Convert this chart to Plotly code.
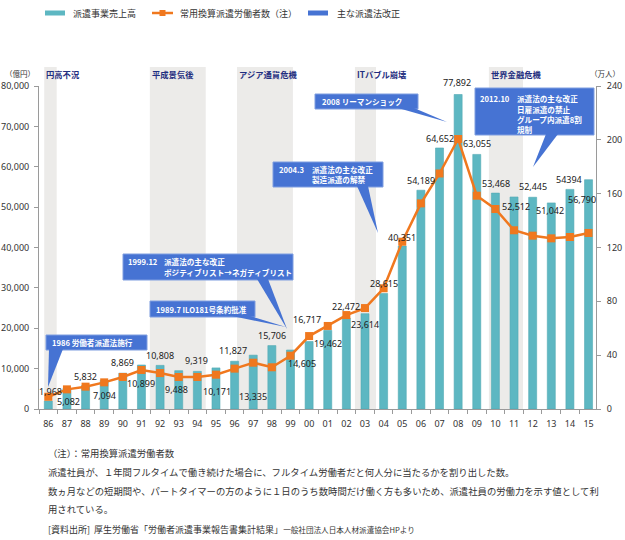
import plotly.graph_objects as go

# ---------------- data ----------------
years = ["86", "87", "88", "89", "90", "91", "92", "93", "94", "95", "96", "97", "98", "99",
         "00", "01", "02", "03", "04", "05", "06", "07", "08", "09", "10", "11", "12", "13", "14", "15"]
sales = [1968, 5082, 5832, 7094, 8869, 10899, 10808, 9488, 9319, 10171, 11827, 13335, 15706, 14605,
         16717, 19462, 22472, 23614, 28615, 40351, 54189, 64652, 77892, 63055, 53468, 52512, 52445,
         51042, 54394, 56790]
sales_labels = ["1,968", "5,082", "5,832", "7,094", "8,869", "10,899", "10,808", "9,488", "9,319",
                "10,171", "11,827", "13,335", "15,706", "14,605", "16,717", "19,462", "22,472",
                "23,614", "28,615", "40,351", "54,189", "64,652", "77,892", "63,055", "53,468",
                "52,512", "52,445", "51,042", "54394", "56,790"]
workers = [9.1, 14.6, 16.6, 19.8, 23.8, 29.0, 26.7, 23.8, 23.8, 25.5, 30.0, 34.4, 31.0, 39.6,
           54.2, 61.7, 69.8, 75.0, 89.7, 124.3, 152.8, 175.0, 200.6, 158.5, 148.6, 132.8, 128.8,
           126.8, 127.8, 130.8]
eras = ["円高不況", "平成景気後", "アジア通貨危機", "ITバブル崩壊", "世界金融危機"]
era_start = [-0.22, 5.45, 10.13, 16.46, 23.65]
era_end = [0.45, 8.45, 13.13, 17.59, 25.48]

left_ticks = [0, 10000, 20000, 30000, 40000, 50000, 60000, 70000, 80000]
right_ticks = [0, 40, 80, 120, 160, 200, 240]

legend_names = ["派遣事業売上高", "常用換算派遣労働者数（注）", "主な派遣法改正"]

# ---------------- style / layout ----------------
W, H = 625, 540
PX_L, PX_R, PX_T, PX_B = 39, 596, 86, 409
XR = [-0.5, 29.4]

TEAL = "#5DB7C2"
ORANGE = "#F0781E"
BLUE = "#4673D3"
BAND = "#ECEBE9"
NAVY = "#1F2E80"
TXT = "#333333"
NUMFONT = "Noto Sans, Noto Sans CJK JP, sans-serif"
JPFONT = "Noto Sans CJK JP, Noto Sans, sans-serif"


def px(x):
    return (x - PX_L) / (PX_R - PX_L)


def py(y):
    return (PX_B - y) / (PX_B - PX_T)


# label offsets (pixels) relative to bar top
lab_dx = [2, 2, 0, 0, 0, 0, 0, -2.7, -0.6, 1, -2, -0.6, 0, 12, -2.4, 0, 0, 0, 0, 0, 0, 0, -1, 0, 1, 2, 0, -1, -1, -6.6]
lab_dy = [10, -13, 9, -15.6, 10.6, -18.7, 9.4, -19, 10.4, -24, 10.6, -41, 10, -13, 21.6, -13.4, 11.7,
          -10.5, 9.7, 9, 10, 9.5, 12, 11, 10, -10, 11, -7.4, 10, -20]

idx = list(range(len(years)))

fig = go.Figure()
fig.add_trace(go.Bar(x=idx, y=sales, width=0.43, marker=dict(color=TEAL, line=dict(color="#52A9B4", width=0.6)),
                     name=legend_names[0], showlegend=False, hoverinfo="y"))
fig.add_trace(go.Scatter(x=idx, y=workers, yaxis="y2", mode="lines+markers", name=legend_names[1],
                         line=dict(color=ORANGE, width=2.5),
                         marker=dict(symbol="square", size=8, color=ORANGE), showlegend=False))

shapes = []
annotations = []

# era bands
for s, e in zip(era_start, era_end):
    shapes.append(dict(type="rect", xref="x", yref="paper", x0=s, x1=e, y0=0, y1=py(67),
                       fillcolor=BAND, line=dict(width=0), layer="below"))
for name, s in zip(eras, era_start):
    annotations.append(dict(text=name, xref="x", yref="paper", x=s, y=py(73.5), xanchor="left",
                            yanchor="middle", showarrow=False, xshift=0,
                            font=dict(family=JPFONT, size=8.3, color=NAVY, weight="bold")))

# data labels
for i, (v, lab) in enumerate(zip(sales, sales_labels)):
    annotations.append(dict(text=lab, xref="x", yref="y", x=i, y=v, xshift=lab_dx[i], yshift=lab_dy[i],
                            showarrow=False, xanchor="center", yanchor="middle",
                            font=dict(family=NUMFONT, size=9, color="#222222")))

# callouts
callouts = [
    dict(box=(46, 335, 147, 350), tri=[(49, 350), (63, 350), (48, 387)],
         texts=[(50, 342.5, "1986 労働者派遣法施行")]),
    dict(box=(150, 301, 255, 317), tri=[(232, 317), (250, 317), (286, 327)],
         texts=[(154, 309, "1989.7 ILO181号条約批准")]),
    dict(box=(123, 254, 293, 280), tri=[(257, 280), (268, 280), (287, 329)],
         texts=[(126, 261, "1999.12"), (162, 261, "派遣法の主な改正"),
                (162, 272, "ポジティブリスト→ネガティブリスト")]),
    dict(box=(273, 162, 383, 187), tri=[(357, 187), (368, 187), (378, 233)],
         texts=[(277, 169, "2004.3"), (310, 169, "派遣法の主な改正"), (310, 179.5, "製造派遣の解禁")]),
    dict(box=(315, 94, 418, 109), tri=[(398, 109), (414, 109), (447, 122)],
         texts=[(320, 101.5, "2008 リーマンショック")]),
    dict(box=(475, 88, 594, 135), tri=[(546, 135), (558, 135), (533, 167)],
         texts=[(478, 98, "2012.10"), (515, 98, "派遣法の主な改正"), (515, 110, "日雇派遣の禁止"),
                (515, 119.5, "グループ内派遣8割"), (515, 129, "規制")]),
]
for c in callouts:
    x0, y0, x1, y1 = c["box"]
    shapes.append(dict(type="rect", xref="paper", yref="paper", x0=px(x0), x1=px(x1), y0=py(y1), y1=py(y0),
                       fillcolor=BLUE, line=dict(color="#7F9EE0", width=1), layer="above"))
    (ax, ay), (bx, by), (tx, ty) = c["tri"]
    path = f"M {px(ax)} {py(ay - 1)} L {px(bx)} {py(by - 1)} L {px(tx)} {py(ty)} Z"
    shapes.append(dict(type="path", xref="paper", yref="paper", path=path, fillcolor=BLUE,
                       line=dict(width=0), layer="above"))
    for tx_, ty_, t in c["texts"]:
        annotations.append(dict(text=t, xref="paper", yref="paper", x=px(tx_), y=py(ty_), xanchor="left",
                                yanchor="middle", showarrow=False,
                                font=dict(family=JPFONT, size=7.6, color="white", weight="bold")))

# legend (manual)
shapes.append(dict(type="rect", xref="paper", yref="paper", x0=px(45), x1=px(65), y0=py(15.5), y1=py(10.5),
                   fillcolor=TEAL, line=dict(width=0)))
shapes.append(dict(type="line", xref="paper", yref="paper", x0=px(152), x1=px(173), y0=py(13), y1=py(13),
                   line=dict(color=ORANGE, width=2.5)))
shapes.append(dict(type="rect", xref="paper", yref="paper", x0=px(159.5), x1=px(165.5), y0=py(16), y1=py(10),
                   fillcolor=ORANGE, line=dict(width=0)))
shapes.append(dict(type="rect", xref="paper", yref="paper", x0=px(308), x1=px(328), y0=py(15.5), y1=py(10.5),
                   fillcolor=BLUE, line=dict(width=0)))
for name, lx in zip(legend_names, [71, 178, 335]):
    annotations.append(dict(text=name, xref="paper", yref="paper", x=px(lx), y=py(13), xanchor="left",
                            yanchor="middle", showarrow=False, font=dict(family=JPFONT, size=9, color=TXT)))

# axis unit labels
annotations.append(dict(text="（億円）", xref="paper", yref="paper", x=px(20), y=py(73), xanchor="center",
                        yanchor="middle", showarrow=False, font=dict(family=JPFONT, size=7.5, color=TXT)))
annotations.append(dict(text="（万人）", xref="paper", yref="paper", x=px(622), y=py(73), xanchor="right",
                        yanchor="middle", showarrow=False, font=dict(family=JPFONT, size=7.5, color=TXT)))

# footnotes
notes = [
    (453, "（注）：常用換算派遣労働者数"),
    (471.5, "派遣社員が、１年間フルタイムで働き続けた場合に、フルタイム労働者だと何人分に当たるかを割り出した数。"),
    (491, "数ヵ月などの短期間や、パートタイマーの方のように１日のうち数時間だけ働く方も多いため、派遣社員の労働力を示す値として利"),
    (509, "用されている。"),
]
for ny, t in notes:
    annotations.append(dict(text=t, xref="paper", yref="paper", x=px(46), y=py(ny), xanchor="left",
                            yanchor="middle", showarrow=False, font=dict(family=JPFONT, size=9.35, color=TXT)))
annotations.append(dict(text="[資料出所]  厚生労働省「労働者派遣事業報告書集計結果」"
                             "<span style='font-size:7.6px'>一般社団法人日本人材派遣協会HPより</span>",
                        xref="paper", yref="paper", x=px(46), y=py(529.5), xanchor="left",
                        yanchor="middle", showarrow=False, font=dict(family=JPFONT, size=9, color=TXT)))

fig.update_layout(
    width=W, height=H,
    margin=dict(l=PX_L, r=W - PX_R, t=PX_T, b=H - PX_B, pad=0, autoexpand=False),
    paper_bgcolor="white", plot_bgcolor="white",
    showlegend=False,
    xaxis=dict(range=XR, tickmode="array", tickvals=idx, ticktext=years, ticks="", automargin=False,
               showline=True, linecolor="#9A9A9A", linewidth=1, showgrid=False, zeroline=False,
               tickfont=dict(family=NUMFONT, size=9, color=TXT), ticklabelstandoff=6,
               minor=dict(tickmode="array", tickvals=[i - 0.5 for i in range(31)], ticks="outside",
                          ticklen=4, tickcolor="#9A9A9A", showgrid=False)),
    yaxis=dict(range=[0, 80000], tickmode="array", tickvals=left_ticks, tickformat=",", ticks="outside",
               ticklen=4, tickcolor="#9A9A9A", showline=True, linecolor="#9A9A9A", showgrid=False,
               automargin=False,
               zeroline=False, tickfont=dict(family=NUMFONT, size=9, color=TXT), ticklabelstandoff=3),
    yaxis2=dict(range=[0, 240], tickmode="array", tickvals=right_ticks, overlaying="y", side="right",
                ticks="outside", ticklen=4, tickcolor="#9A9A9A", showline=True, linecolor="#9A9A9A",
                automargin=False,
                showgrid=False, zeroline=False, tickfont=dict(family=NUMFONT, size=9, color=TXT),
                ticklabelstandoff=4),
    shapes=shapes, annotations=annotations,
)

fig.write_html("out.html", config={"displayModeBar": False},
               post_script="document.body.style.margin='0';")
